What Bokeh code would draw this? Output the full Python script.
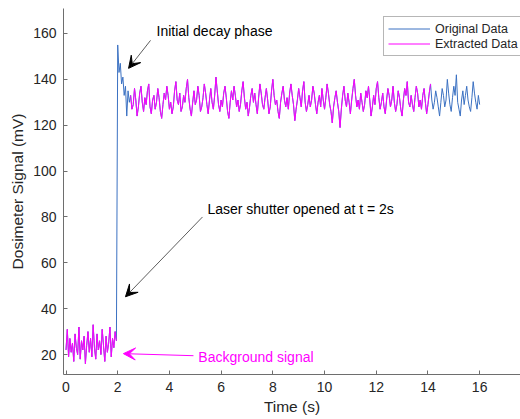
import numpy as np
from bokeh.plotting import figure
from bokeh.models import Arrow, VeeHead, Label, Legend, LegendItem
from bokeh.embed import file_html
from bokeh.resources import INLINE

# Dosimeter trace, sampled every 0.05 s from t = 0 to 16 s (mV)
SAMPLE_PERIOD = 0.05
background = [22, 31, 19, 27, 21, 25, 17, 29, 23, 20, 32, 18, 26, 22, 28, 16, 24, 30, 21, 27,
              19, 33, 23, 18, 29, 22, 26, 20, 31, 24, 17, 28, 21, 25, 32, 19, 27, 23, 30, 26]
decay = [155, 143, 147, 138, 141, 133, 137, 124, 135, 130]
plateau = [
    133, 127, 129, 136, 131, 124, 128, 134, 137, 130, 126, 132, 129, 135, 138, 128, 125, 131, 133, 127,
    130, 136, 132, 126, 123, 129, 134, 131, 137, 133, 127, 130, 125, 128, 135, 139, 131, 129, 134, 126,
    128, 133, 130, 136, 140, 132, 127, 124, 130, 135, 129, 131, 137, 133, 126, 128, 132, 138, 134, 129,
    125, 131, 136, 130, 127, 133, 141, 135, 129, 126, 131, 128, 134, 137, 132, 126, 123, 130, 135, 131,
    137, 133, 128, 131, 126, 129, 135, 139, 132, 127, 130, 124, 128, 133, 136, 130, 134, 129, 125, 132,
    138, 134, 129, 127, 132, 136, 131, 125, 128, 135, 140, 133, 129, 131, 126, 123, 130, 134, 137, 131,
    128, 132, 127, 134, 138, 133, 129, 122, 127, 131, 136, 132, 128, 135, 139, 130, 126, 129, 133, 128,
    131, 137, 134, 129, 125, 130, 133, 128, 136, 131, 127, 132, 138, 134, 129, 126, 121, 128, 132, 135,
    130, 126, 119, 127, 133, 137, 131, 128, 134, 130, 125, 131, 136, 140, 133, 128, 131, 127, 134, 130,
    126, 129, 135, 132, 137, 131, 124, 128, 133, 129, 136, 139, 132, 127, 130, 134, 128, 125, 131, 136,
    133, 128, 131, 137, 130, 126, 129, 135, 132, 127, 124, 131, 136, 133, 139, 130, 128, 133, 129, 126,
    132, 137, 134, 128, 131, 127, 133, 136, 130, 125, 129, 134, 138, 131, 127, 130, 135, 132, 128, 124,
    130, 136, 133, 128, 131, 140, 134, 129, 126, 132, 137, 133, 142, 130, 127, 124, 131, 135, 129, 133,
    137, 131, 128, 126, 132, 139, 134, 130, 127, 133, 129,
]
# time windows (s) kept as extracted data
extract_windows = [(0.0, 1.95), (2.5, 14.1)]

signal = np.array(background + decay + plateau, dtype=float)
t = np.round(np.arange(len(signal)) * SAMPLE_PERIOD, 2)

BLUE = "#3B71C2"
MAGENTA = "#FF00FF"
FONT = "Liberation Sans"
TXT = "#262626"

p = figure(width=520, height=419, output_backend="svg", toolbar_location=None,
           x_range=(-0.097, 17.58), y_range=(11.3, 170.9),
           min_border_left=63, min_border_right=0, min_border_top=8, min_border_bottom=45)
p.outline_line_color = None
p.xgrid.visible = False
p.ygrid.visible = False
p.background_fill_color = "white"

orig = p.line(t, signal, line_color=BLUE, line_width=1)

xs, ys = [], []
for a, b in extract_windows:
    m = (t >= a - 1e-9) & (t <= b + 1e-9)
    xs.append(t[m].tolist())
    ys.append(signal[m].tolist())
ext = p.multi_line(xs=xs, ys=ys, line_color=MAGENTA, line_width=1)

for ax in (p.xaxis[0], p.yaxis[0]):
    ax.major_tick_in = 4
    ax.major_tick_out = 0
    ax.minor_tick_in = 0
    ax.minor_tick_out = 0
    ax.axis_line_color = "#6e6e6e"
    ax.major_tick_line_color = "#6e6e6e"
    ax.major_label_text_font = FONT
    ax.major_label_text_font_size = "14px"
    ax.major_label_text_color = TXT
    ax.axis_label_text_font = FONT
    ax.axis_label_text_font_size = "15.5px"
    ax.axis_label_text_font_style = "normal"
    ax.axis_label_text_color = TXT

p.xaxis.ticker = [0, 2, 4, 6, 8, 10, 12, 14, 16]
p.yaxis.ticker = [20, 40, 60, 80, 100, 120, 140, 160]
p.xaxis.axis_label = "Time (s)"
p.yaxis.axis_label = "Dosimeter Signal (mV)"
p.xaxis.major_label_standoff = 7
p.yaxis.major_label_standoff = 7
p.xaxis.axis_label_standoff = 3
p.yaxis.axis_label_standoff = 4

# annotations
p.add_layout(Label(x=3.5, y=161, text="Initial decay phase", text_font=FONT,
                   text_font_size="14px", text_color="black", text_baseline="middle"))
p.add_layout(Arrow(end=VeeHead(size=12, fill_color="black", line_color="black"),
                   x_start=3.27, y_start=157, x_end=2.42, y_end=144.8,
                   line_color="#333333", line_width=0.8))

p.add_layout(Label(x=5.47, y=83.5, text="Laser shutter opened at t = 2s", text_font=FONT,
                   text_font_size="14px", text_color="black", text_baseline="middle"))
p.add_layout(Arrow(end=VeeHead(size=12, fill_color="black", line_color="black"),
                   x_start=5.28, y_start=80, x_end=2.3, y_end=45.2,
                   line_color="#333333", line_width=0.8))

p.add_layout(Label(x=5.12, y=19.1, text="Background signal", text_font=FONT,
                   text_font_size="14px", text_color=MAGENTA, text_baseline="middle"))
p.add_layout(Arrow(end=VeeHead(size=12, fill_color=MAGENTA, line_color=MAGENTA),
                   x_start=4.93, y_start=19.5, x_end=2.22, y_end=20.4,
                   line_color=MAGENTA, line_width=1))

legend = Legend(items=[LegendItem(label="Original Data", renderers=[orig]),
                       LegendItem(label="Extracted Data", renderers=[ext])],
                location=(320, 318))
legend.label_text_font = FONT
legend.label_text_font_size = "12.5px"
legend.label_text_color = TXT
legend.glyph_width = 42
legend.glyph_height = 15
legend.label_height = 15
legend.label_standoff = 5
legend.spacing = 0
legend.padding = 4
legend.margin = 0
legend.border_line_color = "#6e6e6e"
legend.border_line_width = 1
legend.background_fill_alpha = 1
p.add_layout(legend)

open("out.html", "w").write(file_html(p, INLINE))
